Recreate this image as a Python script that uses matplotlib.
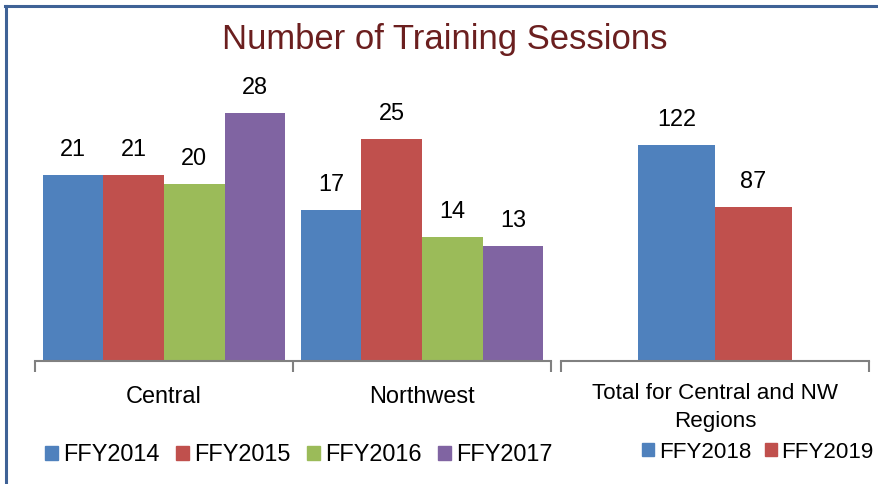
import matplotlib.pyplot as plt
import numpy as np
from matplotlib import font_manager
from matplotlib.patches import Patch

regions = ['Central', 'Northwest']
years_left = ['FFY2014', 'FFY2015', 'FFY2016', 'FFY2017']
values_left = {
    'FFY2014': [21, 17],
    'FFY2015': [21, 25],
    'FFY2016': [20, 14],
    'FFY2017': [28, 13],
}
total_label = 'Total for Central and NW\nRegions'
years_right = ['FFY2018', 'FFY2019']
values_right = [122, 87]

colors = ['#4F81BD', '#C0504D', '#9BBB59', '#8064A2']

# narrow font if present, the original text looks condensed
names = {f.name for f in font_manager.fontManager.ttflist}
if 'Liberation Sans Narrow' in names:
    font = 'Liberation Sans Narrow'
    scale = 1.0
else:
    font = 'Liberation Sans'
    scale = 0.87
plt.rcParams['font.family'] = [font, 'DejaVu Sans']

fs_left = 19.5 * scale
fs_right = 18.5 * scale
fs_title = 28.7 * scale

fig = plt.figure(figsize=(8.79, 4.84), dpi=100)
W, H = 879, 484


def add_axes_px(x0, x1, ytop, ybot):
    return fig.add_axes([x0 / W, 1 - ybot / H, (x1 - x0) / W, (ybot - ytop) / H])


def style_axis(ax, fs, pad):
    for s in ['top', 'left', 'right']:
        ax.spines[s].set_visible(False)
    ax.spines['bottom'].set_color('#808080')
    ax.spines['bottom'].set_linewidth(1.5)
    ax.set_yticks([])
    ax.tick_params(axis='x', which='major', length=0, labelsize=fs, pad=pad)
    ax.tick_params(axis='x', which='minor', length=8, width=1.5, color='#808080')


# left panel
ax1 = add_axes_px(35, 551, 95, 361)
w = 1 / 4.25
x = np.arange(len(regions))
for i, yr in enumerate(years_left):
    pos = x - 2 * w + w / 2 + i * w
    bars = ax1.bar(pos, values_left[yr], width=w, color=colors[i], label=yr)
    for b, v in zip(bars, values_left[yr]):
        ax1.annotate(str(v), (b.get_x() + b.get_width() / 2, b.get_height()),
                     xytext=(0, 10), textcoords='offset points',
                     ha='center', va='bottom', fontsize=fs_left)
ax1.set_xlim(-0.5, 1.5)
ax1.set_ylim(0, 30)
ax1.set_xticks(x)
ax1.set_xticklabels(regions)
ax1.set_xticks([-0.5, 0.5, 1.5], minor=True)
style_axis(ax1, fs_left, 18)

# right panel
ax2 = add_axes_px(561, 869, 95, 361)
w2 = 0.25
for i, (yr, v) in enumerate(zip(years_right, values_right)):
    b = ax2.bar(-w2 / 2 + i * w2, v, width=w2, color=colors[i], label=yr)[0]
    ax2.annotate(str(v), (b.get_x() + b.get_width() / 2, v),
                 xytext=(0, 10), textcoords='offset points',
                 ha='center', va='bottom', fontsize=fs_left)
ax2.set_xlim(-0.5, 0.5)
ax2.set_ylim(0, 150)
ax2.set_xticks([0])
ax2.set_xticklabels([total_label], linespacing=1.45)
ax2.set_xticks([-0.5, 0.5], minor=True)
style_axis(ax2, fs_right, 16)

fig.text(445 / W, 1 - 40 / H, 'Number of Training Sessions', color='#6B1F1F',
         fontsize=fs_title, ha='center', va='center')

# legends
h1 = [Patch(color=c) for c in colors]
fig.legend(h1, years_left, loc='center left', bbox_to_anchor=(45 / W, 1 - 455 / H),
           ncol=4, frameon=False, fontsize=fs_left, handlelength=0.55, handleheight=0.55,
           handletextpad=0.2, columnspacing=0.72, borderpad=0, borderaxespad=0)
h2 = [Patch(color=c) for c in colors[:2]]
fig.legend(h2, years_right, loc='center left', bbox_to_anchor=(642 / W, 1 - 452 / H),
           ncol=2, frameon=False, fontsize=fs_right, handlelength=0.55, handleheight=0.55,
           handletextpad=0.2, columnspacing=0.6, borderpad=0, borderaxespad=0)

# frame line on left and top
fig.add_artist(plt.Line2D([6.5 / W, 6.5 / W], [0, 1 - 5.5 / H], color='#3F6296',
                          lw=2.2, transform=fig.transFigure))
fig.add_artist(plt.Line2D([5.5 / W, 1], [1 - 5.5 / H, 1 - 5.5 / H], color='#3F6296',
                          lw=2.2, transform=fig.transFigure))

fig.savefig('out.png', dpi=100)
